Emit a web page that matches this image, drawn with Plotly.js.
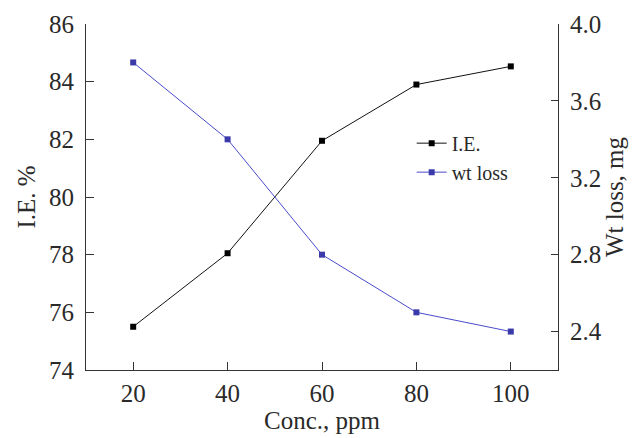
<!DOCTYPE html>
<html>
<head>
<meta charset="utf-8">
<script src="https://cdn.plot.ly/plotly-3.0.1.min.js"></script>
<style>html,body{margin:0;padding:0;background:#fff;}#chart{width:637px;height:438px;}</style>
</head>
<body>
<div id="chart"></div>
<script>
const conc = [20, 40, 60, 80, 100];
const ie = [75.5, 78.05, 81.95, 83.9, 84.53];
const wtLoss = [3.8, 3.4, 2.8, 2.5, 2.4];
const wtTicks = [2.4, 2.8, 3.2, 3.6, 4.0];
const wtTickText = ['2.4', '2.8', '3.2', '3.6', '4.0'];
const serif = '"Liberation Serif", "DejaVu Serif", serif';
const txt = '#2a2a2a';

const traces = [
  {x: conc, y: ie, name: 'I.E.', type: 'scatter', mode: 'lines+markers',
   line: {color: '#111111', width: 1}, marker: {symbol: 'square', size: 6, color: '#000000'}},
  {x: conc, y: wtLoss, name: 'wt loss', type: 'scatter', mode: 'lines+markers', yaxis: 'y2',
   line: {color: '#4a4acc', width: 1}, marker: {symbol: 'square', size: 6, color: '#3a3aaa'}}
];

const layout = {
  width: 637, height: 438,
  margin: {l: 86, r: 79, t: 24, b: 68},
  paper_bgcolor: '#fff', plot_bgcolor: '#fff',
  font: {family: serif, color: txt, size: 25},
  showlegend: true,
  legend: {x: 0.69, y: 0.712, xanchor: 'left', yanchor: 'top', bgcolor: 'rgba(0,0,0,0)',
           font: {family: serif, size: 20, color: txt}, tracegroupgap: 0, itemwidth: 30},
  xaxis: {range: [10, 110], tickvals: conc, ticks: 'inside', ticklen: 8, tickcolor: '#333',
          tickfont: {family: serif, size: 25, color: txt}, ticklabelstandoff: 1,
          showline: true, linecolor: '#333', linewidth: 1, showgrid: false, zeroline: false,
          title: {text: 'Conc., ppm', font: {family: serif, size: 25, color: txt}, standoff: 2}},
  yaxis: {range: [74, 86], dtick: 2, ticks: 'inside', ticklen: 8, tickcolor: '#333',
          tickfont: {family: serif, size: 25, color: txt}, ticklabelstandoff: 6,
          showline: true, linecolor: '#333', linewidth: 1, showgrid: false, zeroline: false,
          title: {text: 'I.E. %', font: {family: serif, size: 25, color: txt}, standoff: 6}},
  yaxis2: {range: [2.2, 4.0], tickvals: wtTicks, ticktext: wtTickText,
           overlaying: 'y', side: 'right', ticks: 'inside', ticklen: 7, tickcolor: '#333',
           tickfont: {family: serif, size: 25, color: txt}, ticklabelstandoff: 6,
           showline: true, linecolor: '#333', linewidth: 1, showgrid: false, zeroline: false,
           title: {text: 'Wt loss, mg', font: {family: serif, size: 25, color: txt}, standoff: 2}}
};

Plotly.newPlot('chart', traces, layout, {displayModeBar: false, staticPlot: true});
</script>
</body>
</html>
